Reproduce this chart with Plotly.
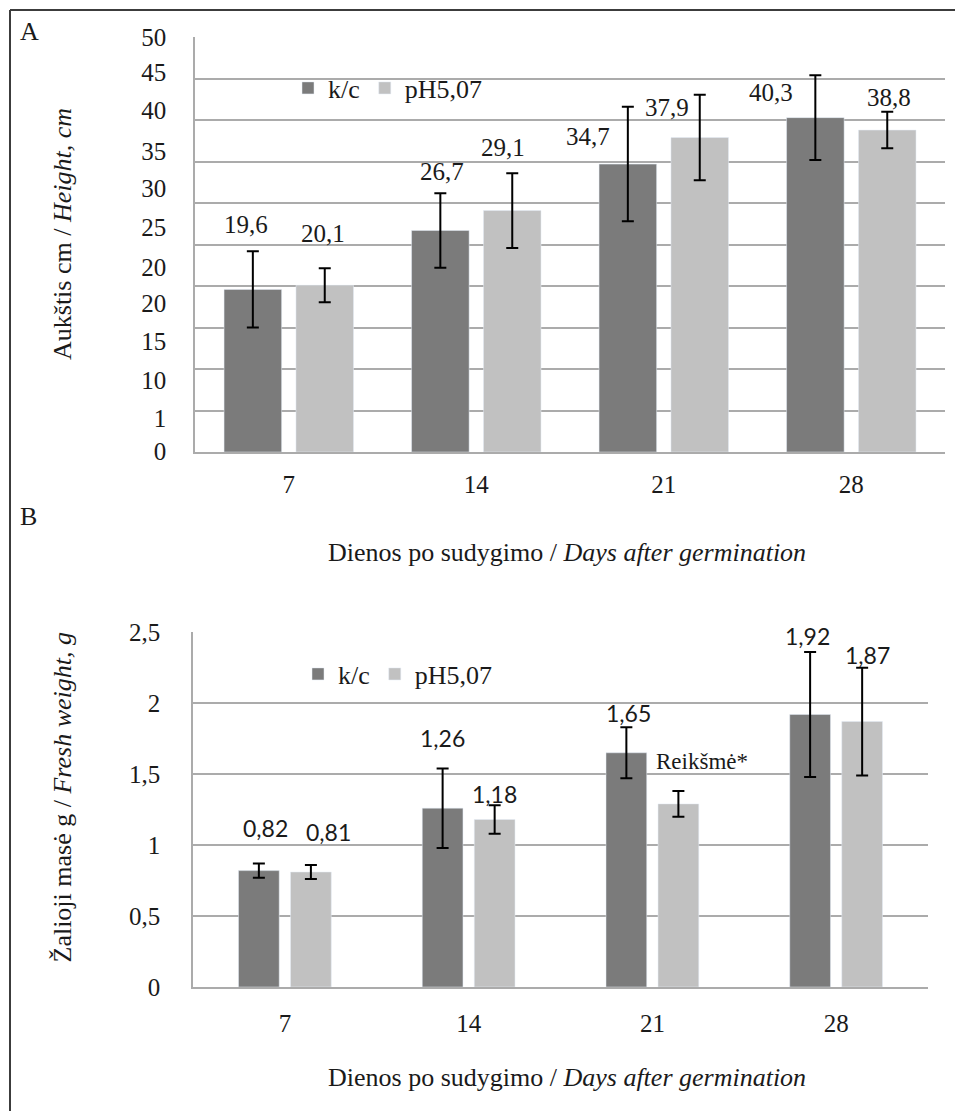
import plotly.graph_objects as go

# ---------------- data ----------------
days = ["7", "14", "21", "28"]
series_names = ["k/c", "pH5,07"]

kc_height = [19.6, 26.7, 34.7, 40.3]
ph_height = [20.1, 29.1, 37.9, 38.8]
kc_height_err = [4.6, 4.5, 6.9, 5.1]
ph_height_err = [2.05, 4.5, 5.15, 2.2]

kc_weight = [0.82, 1.26, 1.65, 1.92]
ph_weight = [0.81, 1.18, 1.29, 1.87]
kc_weight_err = [0.05, 0.28, 0.18, 0.44]
ph_weight_err = [0.05, 0.10, 0.09, 0.38]

# panel A tick labels as printed in the source figure
a_tick_text = ["0", "1", "10", "15", "20", "20", "25", "30", "35", "40", "45", "50"]
a_tick_pos = [0.05, 4.1, 8.7, 13.3, 17.9, 22.3, 27.1, 31.8, 36.2, 41.2, 45.8, 49.95]
a_grid = [0, 5, 10, 15, 20, 25, 30, 35, 40, 45, 50]

b_tick_vals = [0, 0.5, 1, 1.5, 2, 2.5]
b_tick_text = ["0", "0,5", "1", "1,5", "2", "2,5"]

b_ph_label_21 = "Reikšmė*"

# ---------------- style ----------------
DARK = "#7b7b7b"
LIGHT = "#c1c1c1"
GRID = "#ababab"
SERIF = "Liberation Serif, Times New Roman, serif"
SANS = "Lato, Noto Sans, sans-serif"
TXT = "#1a1a1a"

W, H = 955, 1111

# label offsets (px) relative to bar centre / bar top
a_kc_off = [(-7, 65), (2, 59), (-40, 28), (-44, 25)]
a_ph_off = [(-2, 52), (-9, 63), (-33, 30), (2, 33)]
b_kc_off = [(7, 43), (0, 70), (2, 40), (-3, 78)]
b_ph_off = [(18, 40), (0, 26), (24, 42), (5, 67)]


def fmt(v, nd):
    return f"{v:.{nd}f}".replace(".", ",")


err_style = dict(type="data", color="black", thickness=2, width=6, visible=True)

fig = go.Figure()

# Panel A
fig.add_trace(go.Bar(x=days, y=kc_height, name=series_names[0], marker_color=DARK,
                     width=0.307, offset=-0.345,
                     error_y=dict(array=kc_height_err, **err_style),
                     xaxis="x", yaxis="y", legend="legend"))
fig.add_trace(go.Bar(x=days, y=ph_height, name=series_names[1], marker_color=LIGHT,
                     width=0.307, offset=0.0385,
                     error_y=dict(array=ph_height_err, **err_style),
                     xaxis="x", yaxis="y", legend="legend"))
# Panel B
fig.add_trace(go.Bar(x=days, y=kc_weight, name=series_names[0], marker_color=DARK,
                     width=0.2217, offset=-0.2524,
                     error_y=dict(array=kc_weight_err, **err_style),
                     xaxis="x2", yaxis="y2", legend="legend2"))
fig.add_trace(go.Bar(x=days, y=ph_weight, name=series_names[1], marker_color=LIGHT,
                     width=0.2217, offset=0.0308,
                     error_y=dict(array=ph_weight_err, **err_style),
                     xaxis="x2", yaxis="y2", legend="legend2"))

annotations = []
# panel A bar labels (x given as category serial number)
for i, d in enumerate(days):
    for vals, offs, side in ((kc_height, a_kc_off, -36), (ph_height, a_ph_off, 36)):
        annotations.append(dict(x=i, y=vals[i], xref="x", yref="y", text=fmt(vals[i], 1),
                                showarrow=False, xanchor="center", yanchor="middle",
                                xshift=side + offs[i][0], yshift=offs[i][1],
                                font=dict(family=SERIF, size=25, color=TXT)))
# panel B bar labels
for i, d in enumerate(days):
    for vals, offs, side, is_ph in ((kc_weight, b_kc_off, -26, False), (ph_weight, b_ph_off, 26, True)):
        if is_ph and d == "21":
            txt, fnt = b_ph_label_21, dict(family=SERIF, size=23, color=TXT)
        else:
            txt, fnt = fmt(vals[i], 2), dict(family=SANS, size=23, color=TXT)
        annotations.append(dict(x=i, y=vals[i], xref="x2", yref="y2", text=txt,
                                showarrow=False, xanchor="center", yanchor="middle",
                                xshift=side + offs[i][0], yshift=offs[i][1], font=fnt))

# titles / panel letters
title_font = dict(family=SERIF, size=26, color=TXT)
annotations += [
    dict(text="A", x=29 / W, y=1 - 32 / H, xref="paper", yref="paper", showarrow=False,
         xanchor="center", yanchor="middle", font=title_font),
    dict(text="B", x=28 / W, y=1 - 516 / H, xref="paper", yref="paper", showarrow=False,
         xanchor="center", yanchor="middle", font=title_font),
    dict(text="Aukštis cm / <i>Height, cm</i>", x=62.5 / W, y=1 - 234.5 / H, xref="paper",
         yref="paper", showarrow=False, textangle=-90, xanchor="center", yanchor="middle",
         font=title_font),
    dict(text="Žalioji masė g / <i>Fresh weight, g</i>", x=62 / W, y=1 - 797.5 / H, xref="paper",
         yref="paper", showarrow=False, textangle=-90, xanchor="center", yanchor="middle",
         font=title_font),
    dict(text="Dienos po sudygimo / <i>Days after germination</i>", x=567 / W, y=1 - 552 / H,
         xref="paper", yref="paper", showarrow=False, xanchor="center", yanchor="middle",
         font=title_font),
    dict(text="Dienos po sudygimo / <i>Days after germination</i>", x=567 / W, y=1 - 1077 / H,
         xref="paper", yref="paper", showarrow=False, xanchor="center", yanchor="middle",
         font=title_font),
]

tick_font = dict(family=SERIF, size=25, color=TXT)
legend_common = dict(orientation="h", xanchor="left", yanchor="middle",
                     bgcolor="rgba(0,0,0,0)", font=dict(family=SERIF, size=26, color=TXT),
                     itemwidth=30, traceorder="normal")

frame_line = dict(color="#3c3c3c", width=2)

fig.update_layout(
    width=W, height=H, autosize=False,
    margin=dict(l=0, r=0, t=0, b=0, pad=0, autoexpand=False),
    paper_bgcolor="white", plot_bgcolor="white",
    barmode="overlay",
    showlegend=True,
    xaxis=dict(domain=[195 / W, 945 / W], anchor="y", type="category", range=[-0.5, 3.5],
               automargin=False,
               showgrid=False, showline=True, linecolor=GRID, linewidth=1.5, ticks="",
               tickfont=tick_font, ticklabelstandoff=9),
    yaxis=dict(domain=[1 - 452 / H, 1 - 37 / H], anchor="x", range=[0, 50.02],
               automargin=False,
               tickvals=a_tick_pos, ticktext=a_tick_text, showgrid=False,
               minor=dict(tickvals=a_grid, showgrid=True, gridcolor=GRID, gridwidth=1.5,
                          ticks=""),
               showline=True, linecolor=GRID, linewidth=1.5, zeroline=False,
               ticks="", tickfont=tick_font, ticklabelstandoff=22),
    xaxis2=dict(domain=[193 / W, 928 / W], anchor="y2", type="category", range=[-0.5, 3.5],
                automargin=False,
                showgrid=False, showline=True, linecolor=GRID, linewidth=1.5, ticks="",
                tickfont=tick_font, ticklabelstandoff=13),
    yaxis2=dict(domain=[1 - 987 / H, 1 - 632 / H], anchor="x2", range=[0, 2.501],
                automargin=False,
                tickvals=b_tick_vals, ticktext=b_tick_text, showgrid=True, gridcolor=GRID,
                gridwidth=1.5, showline=True, linecolor=GRID, linewidth=1.5, zeroline=False,
                ticks="", tickfont=tick_font, ticklabelstandoff=26),
    legend=dict(x=288 / W, y=1 - 88 / H, **legend_common),
    legend2=dict(x=298 / W, y=1 - 674 / H, **legend_common),
    annotations=annotations,
    shapes=[
        dict(type="line", xref="paper", yref="paper", x0=10 / W, x1=1, y0=1 - 10 / H,
             y1=1 - 10 / H, line=frame_line, layer="above"),
        dict(type="line", xref="paper", yref="paper", x0=10 / W, x1=10 / W, y0=0,
             y1=1 - 10 / H, line=frame_line, layer="above"),
    ],
)

fig.write_html("out.html", config={"displayModeBar": False, "responsive": False},
               post_script="document.body.style.margin='0px';document.body.style.overflow='hidden';")
